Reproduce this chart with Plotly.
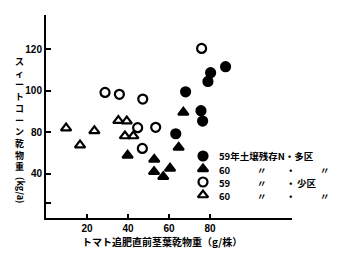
import plotly.graph_objects as go

# 59年 多区 (filled circle)
x_59_many = [68.1, 75.6, 76.4, 63.3, 80.3, 79.0, 87.6]
y_59_many = [99.4, 90.3, 85.3, 79.2, 108.6, 104.4, 111.5]
# 60年 多区 (filled triangle)
x_60_many = [67.0, 64.7, 39.8, 52.8, 52.7, 57.2, 60.5]
y_60_many = [89.5, 72.6, 68.8, 66.8, 60.9, 58.5, 62.5]
# 59年 少区 (open circle)
x_59_few = [28.8, 35.8, 47.2, 44.7, 53.5, 47.0, 75.9]
y_59_few = [99.1, 98.2, 95.9, 82.1, 82.3, 72.1, 120.3]
# 60年 少区 (open triangle)
x_60_few = [9.8, 16.6, 23.6, 35.3, 39.4, 38.5, 42.6]
y_60_few = [81.9, 73.7, 80.6, 85.5, 85.3, 78.1, 78.1]

x_ticks = [20, 40, 60, 80]
y_tickvals = [45.8, 60, 80, 100, 120]
y_ticktext = ["", "40", "80", "100", "120"]

legend_years = ["59", "60", "59", "60"]
legend_mid = ["年土壌残存N", "〃", "〃", "〃"]
legend_plot = ["多区", "〃", "少区", "〃"]

symbols = ["circle", "triangle-up", "circle-open", "triangle-up-open"]
series = [(x_59_many, y_59_many), (x_60_many, y_60_many),
          (x_59_few, y_59_few), (x_60_few, y_60_few)]

X_RANGE = [0, 120]
Y_RANGE = [38.6, 136.4]

fig = go.Figure()
for (xs, ys), sym, yr, pl in zip(series, symbols, legend_years, legend_plot):
    fig.add_trace(go.Scatter(
        x=xs, y=ys, mode="markers", name=yr + pl, showlegend=False,
        marker=dict(symbol=sym, size=9, color="black",
                    line=dict(color="black", width=2.2)),
    ))


def px(p):
    return (p - 46) / 246.0


def py(p):
    return (218 - p) / 203.0


# hand-placed legend (rows closer together than plotly's legend allows)
leg_x = px(203)
leg_rows = [py(156), py(169), py(182), py(195)]
fig.add_trace(go.Scatter(
    x=[X_RANGE[0] + leg_x * (X_RANGE[1] - X_RANGE[0])] * 4,
    y=[Y_RANGE[0] + r * (Y_RANGE[1] - Y_RANGE[0]) for r in leg_rows],
    mode="markers", showlegend=False, hoverinfo="skip",
    marker=dict(symbol=symbols, size=9, color="black",
                line=dict(color="black", width=2.2))))
leg_font = dict(family="Noto Sans CJK JP", size=9.5, color="black", weight="bold")


def ann(text, x, y, xanchor="left"):
    fig.add_annotation(text=text, xref="paper", yref="paper", x=x, y=y,
                       xanchor=xanchor, yanchor="middle", showarrow=False,
                       font=leg_font, height=11, borderpad=0)


for i, ry in enumerate(leg_rows):
    if i == 0:
        ann(legend_years[i] + legend_mid[i] + "・" + legend_plot[i], px(218), ry)
        continue
    ann(legend_years[i], px(218), ry)
    ann(legend_mid[i], px(262), ry, "center")
    ann("・", px(291), ry, "center")
    if legend_plot[i] == "〃":
        ann("〃", px(325), ry, "center")
    else:
        ann(legend_plot[i], px(296), ry)

font_num = dict(family="Liberation Sans", size=10, color="black", weight="bold")
fig.update_layout(
    width=341, height=258,
    margin=dict(l=46, r=49, t=15, b=40, autoexpand=False),
    paper_bgcolor="white", plot_bgcolor="white",
    showlegend=False,
    xaxis=dict(range=X_RANGE, tickvals=x_ticks, ticks="inside", ticklen=4,
               tickwidth=1.5, tickcolor="black", automargin=False,
               showline=True, linecolor="black", linewidth=2,
               showgrid=False, zeroline=False, tickfont=font_num),
    yaxis=dict(range=Y_RANGE, tickvals=y_tickvals, ticktext=y_ticktext,
               ticks="inside", ticklen=5, tickwidth=1.5, tickcolor="black",
               automargin=False,
               showline=True, linecolor="black", linewidth=2,
               showgrid=False, zeroline=False, tickfont=font_num),
)

fig.add_annotation(
    text="トマト追肥直前茎葉乾物重（g/株）",
    xref="paper", yref="paper", x=0.47, y=-0.118, xanchor="center", yanchor="middle",
    showarrow=False, font=dict(family="Noto Sans CJK JP", size=10, color="black", weight="bold"))

ytitle = "スィートコーン乾物重"
fig.add_annotation(
    text="<br>".join(list(ytitle)),
    xref="paper", yref="paper", x=-0.106, y=0.815, xanchor="center", yanchor="top",
    showarrow=False, font=dict(family="Noto Sans CJK JP", size=9, color="black", weight="bold"),
    align="center")
fig.add_annotation(
    text="(kg/a)",
    xref="paper", yref="paper", x=-0.106, y=0.138, xanchor="center", yanchor="middle",
    textangle=90, showarrow=False,
    font=dict(family="Noto Sans CJK JP", size=9, color="black", weight="bold"))

fig.write_html("out.html")
